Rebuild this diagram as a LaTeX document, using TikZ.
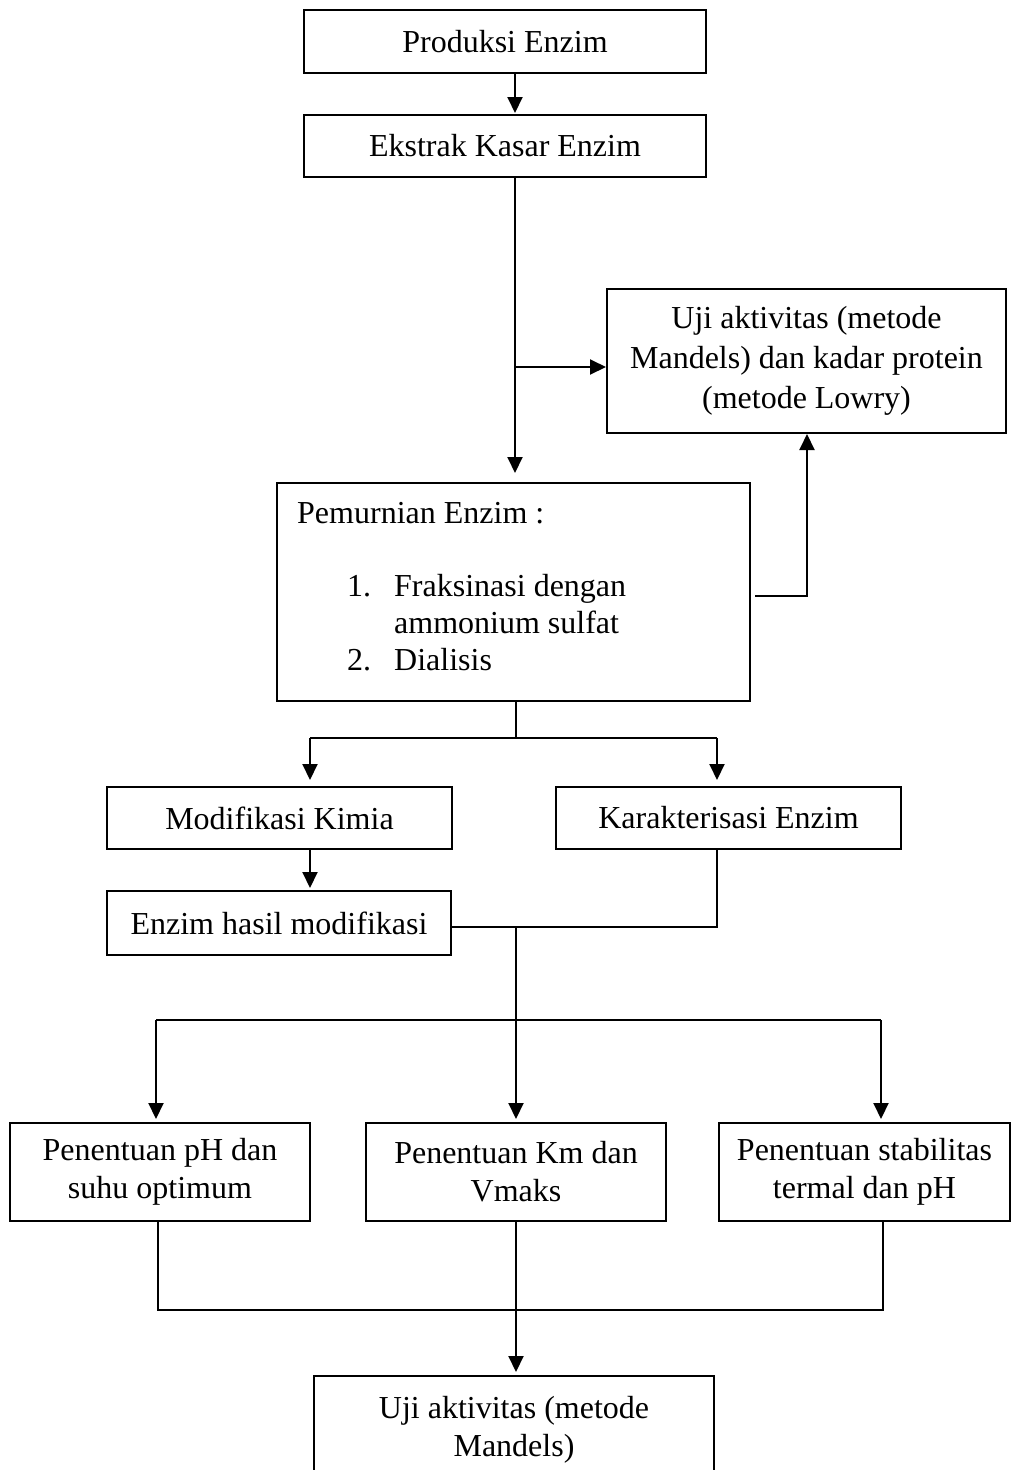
\documentclass[tikz,border=0pt]{standalone}
\usepackage{fontspec}
\setmainfont{Liberation Serif}
\usetikzlibrary{arrows.meta}
\begin{document}
\begin{tikzpicture}[x=1pt,y=-1pt,
  box/.style={draw, line width=2pt, inner sep=0pt, align=center, font=\fontsize{32}{38}\selectfont},
  txt/.style={inner sep=0pt, font=\fontsize{32}{38}\selectfont},
  conn/.style={line width=2pt},
  arr/.style={line width=2pt, -{Triangle[width=15pt,length=16pt]}}]
\clip (0,0) rectangle (1012,1470);
\fill[white] (0,0) rectangle (1012,1470);

% boxes
\node[box, minimum width=402pt, minimum height=63pt] (b1) at (505,41.5) {Produksi Enzim};
\node[box, minimum width=402pt, minimum height=62pt] (b2) at (505,146) {Ekstrak Kasar Enzim};
\node[box, minimum width=399pt, minimum height=144pt, font=\fontsize{32}{40}\selectfont] (b3) at (806.5,361) {Uji aktivitas (metode\\Mandels) dan kadar protein\\(metode Lowry)};
\node[box, minimum width=473pt, minimum height=218pt] (b4) at (513.5,592) {};
\node[txt, anchor=base west] (p0) at (297,523) {Pemurnian Enzim :};
\node[txt, anchor=base west] (p1n) at (347,596) {1.};
\node[txt, anchor=base west] (p1) at (394,596) {Fraksinasi dengan};
\node[txt, anchor=base west] (p1b) at (394,633) {ammonium sulfat};
\node[txt, anchor=base west] (p2n) at (347,670) {2.};
\node[txt, anchor=base west] (p2) at (394,670) {Dialisis};
\node[box, minimum width=345pt, minimum height=62pt] (b5) at (279.5,818) {Modifikasi Kimia};
\node[box, minimum width=345pt, minimum height=62pt] (b6) at (728.5,818) {Karakterisasi Enzim};
\node[box, minimum width=344pt, minimum height=64pt] (b7) at (279,923) {Enzim hasil modifikasi};
\node[box, minimum width=300pt, minimum height=98pt] (b8) at (160,1172) {Penentuan pH dan\\suhu optimum};
\node[box, minimum width=300pt, minimum height=98pt] (b9) at (516,1172) {Penentuan Km dan\\Vmaks};
\node[box, minimum width=291pt, minimum height=98pt] (b10) at (864.5,1172) {Penentuan stabilitas\\termal dan pH};
\node[box, minimum width=400pt, minimum height=108pt] (b11) at (514,1430) {Uji aktivitas (metode\\Mandels)};

% connectors
\coordinate (cx) at (515,0);
\draw[arr, shorten >=1pt] (b1.south -| cx) -- (b2.north -| cx);
\draw[arr, shorten >=9pt] (b2.south -| cx) -- (b4.north -| cx);
\coordinate (br) at (515,367);
\draw[arr] (br) -- (br -| b3.west);
\coordinate (up) at (807,596);
\draw[arr, shorten <=4pt] (b4.east |- up) -- (up) -- (up |- b3.south);

\coordinate (s1) at (516,738);
\coordinate (jl) at (310,738);
\coordinate (jr) at (717,738);
\draw[conn] (b4.south -| s1) -- (s1);
\draw[conn] (jl) -- (jr);
\draw[arr, shorten >=6pt] (jl) -- (jl |- b5.north);
\draw[arr, shorten >=6pt] (jr) -- (jr |- b6.north);
\draw[arr, shorten >=2pt] (b5.south -| jl) -- (b7.north -| jl);
\coordinate (m) at (516,927);
\draw[conn] (b6.south -| jr) |- (b7.east |- m);
\draw[arr, shorten >=3pt] (m) -- (b9.north);
\coordinate (hl) at (156,1020);
\coordinate (hr) at (881,1020);
\draw[conn] (hl) -- (hr);
\draw[arr, shorten >=3pt] (hl) -- (hl |- b8.north);
\draw[arr, shorten >=3pt] (hr) -- (hr |- b10.north);
\coordinate (ll) at (158,1310);
\coordinate (lr) at (883,1310);
\draw[conn] (b8.south -| ll) -- (ll) -- (lr) -- (b10.south -| lr);
\draw[arr, shorten >=3pt] (b9.south) -- (b11.north -| b9.south);
\end{tikzpicture}
\end{document}
